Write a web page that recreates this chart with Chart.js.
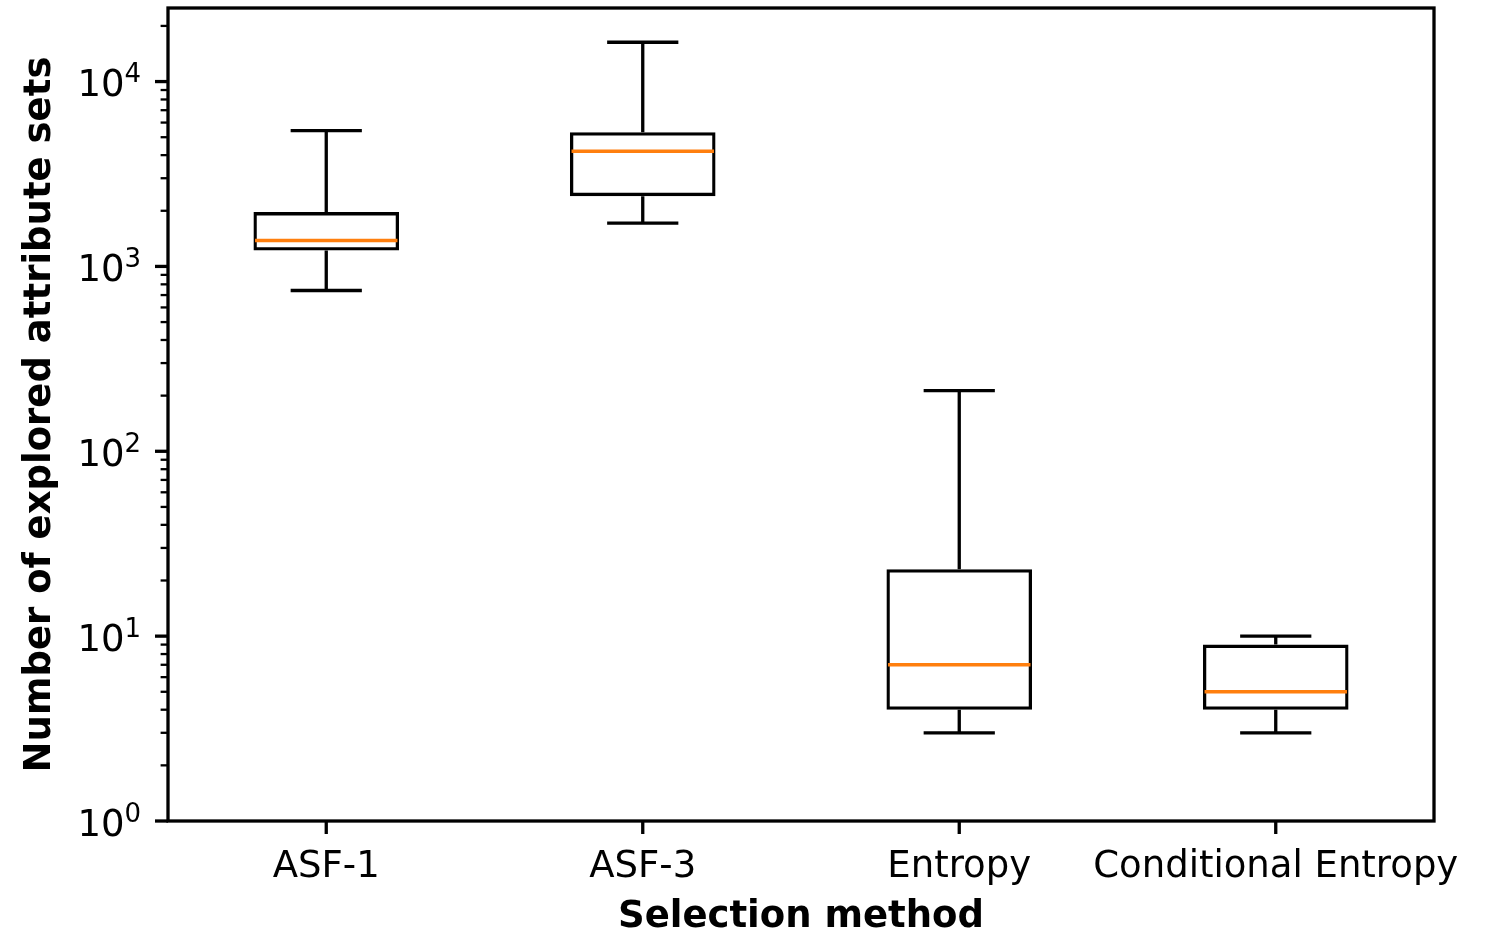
<!DOCTYPE html>
<html>
<head>
<meta charset="utf-8">
<script src="https://cdn.jsdelivr.net/npm/chart.js@4.4.1/dist/chart.umd.min.js"></script>
<style>
  html, body { margin: 0; padding: 0; background: #fff; }
  #wrap { width: 1485px; height: 932px; }
</style>
</head>
<body>
<div id="wrap"><canvas id="boxChart" width="1485" height="932"></canvas></div>
<script>
/* Datos (escala logarítmica) */
const methods     = ['ASF-1', 'ASF-3', 'Entropy', 'Conditional Entropy'];
const whiskerLow  = [741, 1714, 3, 3];
const q1          = [1220, 2399, 4, 4];
const median      = [1383, 4200, 7, 5];
const q3          = [1967, 5321, 23, 9];
const whiskerHigh = [5433, 16320, 213, 10];

const yTickValues = [1, 10, 100, 1000, 10000];
const yMin = 1;
const yMax = 25000;

const FONT = "'DejaVu Sans', sans-serif";
const BLACK = '#000000';
const ORANGE = '#ff7f0e';
const LW = 3.3;

// Bigotes, tapas, medianas, marcas de eje y el marco completo
const boxExtras = {
  id: 'boxExtras',
  afterDatasetsDraw(chart) {
    const { ctx, chartArea, scales: { x, y } } = chart;
    const step = x.getPixelForValue(1) - x.getPixelForValue(0);
    const boxHalf = step * 0.45 / 2;
    const capHalf = boxHalf / 2;

    ctx.save();
    ctx.lineCap = 'butt';
    methods.forEach((m, i) => {
      const cx = x.getPixelForValue(i);
      ctx.strokeStyle = BLACK;
      ctx.lineWidth = LW;
      // bigote superior
      ctx.beginPath();
      ctx.moveTo(cx, y.getPixelForValue(q3[i]));
      ctx.lineTo(cx, y.getPixelForValue(whiskerHigh[i]));
      ctx.moveTo(cx - capHalf, y.getPixelForValue(whiskerHigh[i]));
      ctx.lineTo(cx + capHalf, y.getPixelForValue(whiskerHigh[i]));
      // bigote inferior
      ctx.moveTo(cx, y.getPixelForValue(q1[i]));
      ctx.lineTo(cx, y.getPixelForValue(whiskerLow[i]));
      ctx.moveTo(cx - capHalf, y.getPixelForValue(whiskerLow[i]));
      ctx.lineTo(cx + capHalf, y.getPixelForValue(whiskerLow[i]));
      ctx.stroke();
      // mediana
      ctx.strokeStyle = ORANGE;
      ctx.lineWidth = 3.5;
      ctx.beginPath();
      ctx.moveTo(cx - boxHalf, y.getPixelForValue(median[i]));
      ctx.lineTo(cx + boxHalf, y.getPixelForValue(median[i]));
      ctx.stroke();
    });

    // marcas del eje Y (mayores y menores)
    ctx.strokeStyle = BLACK;
    y.ticks.forEach(t => {
      const v = t.value;
      const exp = Math.floor(Math.log10(v) + 1e-9);
      const mant = v / Math.pow(10, exp);
      if (Math.abs(mant - Math.round(mant)) > 1e-6 || v > yMax || v < yMin) return;
      const major = Math.round(mant) === 1;
      const py = y.getPixelForValue(v);
      ctx.lineWidth = major ? LW : 2.3;
      const len = major ? 13 : 7.4;
      ctx.beginPath();
      ctx.moveTo(chartArea.left - len, py);
      ctx.lineTo(chartArea.left, py);
      ctx.stroke();
    });

    // marcas del eje X
    ctx.lineWidth = LW;
    methods.forEach((m, i) => {
      const cx = x.getPixelForValue(i);
      ctx.beginPath();
      ctx.moveTo(cx, chartArea.bottom);
      ctx.lineTo(cx, chartArea.bottom + 13);
      ctx.stroke();
    });

    // etiquetas 10^n con superíndice
    ctx.fillStyle = BLACK;
    ctx.textBaseline = 'alphabetic';
    ctx.textAlign = 'left';
    yTickValues.forEach(v => {
      const py = y.getPixelForValue(v);
      const expText = String(Math.round(Math.log10(v)));
      ctx.font = `26px ${FONT}`;
      const ew = ctx.measureText(expText).width;
      ctx.font = `37px ${FONT}`;
      const bw = ctx.measureText('10').width;
      const right = chartArea.left - 27;
      ctx.fillText('10', right - ew - bw, py + 14.5);
      ctx.font = `26px ${FONT}`;
      ctx.fillText(expText, right - ew, py + 0.5);
    });

    // marco (spines)
    ctx.lineWidth = LW;
    ctx.strokeRect(chartArea.left, chartArea.top, chartArea.right - chartArea.left, chartArea.bottom - chartArea.top);
    ctx.restore();
  }
};

const ctx = document.getElementById('boxChart').getContext('2d');

new Chart(ctx, {
  type: 'bar',
  data: {
    labels: methods,
    datasets: [{
      label: 'IQR',
      data: methods.map((m, i) => [q1[i], q3[i]]),
      backgroundColor: 'rgba(0,0,0,0)',
      borderColor: BLACK,
      borderWidth: LW,
      borderSkipped: false,
      barPercentage: 0.46,
      categoryPercentage: 1.0,
    }],
  },
  options: {
    responsive: false,
    animation: false,
    layout: { padding: { top: 8, right: 51, left: 0, bottom: 0 } },
    plugins: {
      legend: { display: false },
      tooltip: { enabled: false },
    },
    scales: {
      x: {
        offset: true,
        grid: { display: false, drawTicks: false },
        border: { display: false },
        ticks: {
          color: BLACK,
          padding: 24,
          maxRotation: 0,
          autoSkip: false,
          font: { family: FONT, size: 37 },
        },
        title: {
          display: true,
          text: 'Selection method',
          color: BLACK,
          font: { family: FONT, size: 37, weight: 'bold', lineHeight: 1 },
          padding: { top: 0, bottom: -4 },
        },
        afterFit: (scale) => {
          scale.height = 111;
          scale.paddingLeft = 0;
          scale.paddingRight = 0;
        },
      },
      y: {
        type: 'logarithmic',
        min: yMin,
        max: yMax,
        grid: { display: false, drawTicks: false },
        border: { display: false },
        ticks: { display: false },
        title: {
          display: true,
          text: 'Number of explored attribute sets',
          color: BLACK,
          font: { family: FONT, size: 37, weight: 'bold', lineHeight: 1 },
          padding: { top: 22, bottom: 0 },
        },
        afterFit: (scale) => {
          scale.width = 168;
          scale.paddingTop = 0;
          scale.paddingBottom = 0;
        },
      },
    },
  },
  plugins: [boxExtras],
});
</script>
</body>
</html>
